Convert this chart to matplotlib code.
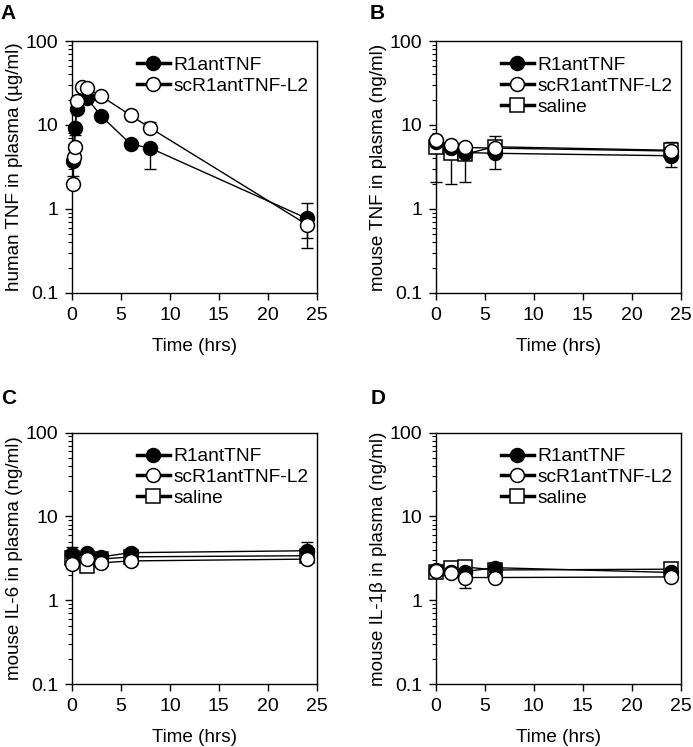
import numpy as np
import matplotlib
matplotlib.use("Agg")
import matplotlib.pyplot as plt

plt.rcParams['font.family'] = ['Liberation Sans', 'DejaVu Sans']

# panel A: human TNF (ug/ml)
a_t_r1 = [0.083, 0.25, 0.5, 1.5, 3, 6, 8, 24]
a_r1 = [3.7, 9.2, 15.5, 21, 12.7, 5.9, 5.3, 0.77]
a_r1_lo = [1.2, 1.5, 0, 0, 0, 0, 2.3, 0.32]
a_r1_hi = [0, 0, 0, 0, 0, 0, 0, 0.4]
a_t_sc = [0.083, 0.167, 0.25, 0.5, 1, 1.5, 3, 6, 8, 24]
a_sc = [2.0, 4.1, 5.5, 19.5, 28, 27.5, 22, 13, 9.2, 0.65]
a_sc_lo = [0, 0, 0, 0, 0, 0, 0, 0, 0, 0.31]
a_sc_hi = [0, 0, 0, 0, 0, 0, 0, 0, 1.6, 0]

# panels B-D share time points
t = [0, 1.5, 3, 6, 24]

b_r1 = [6.2, 5.3, 4.7, 4.6, 4.3]
b_sc = [6.7, 5.7, 5.4, 5.3, 4.9]
b_sal = [5.5, 4.7, 4.5, 5.5, 5.0]
b_sal_lo = [3.4, 2.7, 2.4, 2.5, 1.8]
b_sal_hi = [0, 0, 0, 1.8, 1.2]

c_r1 = [3.6, 3.7, 3.3, 3.7, 3.9]
c_r1_hi = [0.7, 0, 0, 0, 1.1]
c_sc = [2.7, 3.1, 2.8, 2.95, 3.1]
c_sal = [3.2, 2.6, 3.1, 3.3, 3.4]

d_r1 = [2.3, 2.2, 2.2, 2.45, 2.15]
d_sc = [2.25, 2.1, 1.87, 1.87, 1.9]
d_sc_lo = [0, 0, 0.47, 0, 0]
d_sal = [2.2, 2.4, 2.5, 2.3, 2.35]

labels = ['R1antTNF', 'scR1antTNF-L2', 'saline']

fig = plt.figure(figsize=(6.93, 7.47), dpi=100)
w, h = 0.353, 0.337
positions = {'A': (0.104, 0.608), 'B': (0.629, 0.608),
             'C': (0.104, 0.084), 'D': (0.629, 0.084)}
letter_xy = {'A': (0.012, 0.982), 'B': (0.545, 0.982),
             'C': (0.012, 0.467), 'D': (0.545, 0.466)}


def series(ax, x, y, marker, face, label, lo=None, hi=None, z=3):
    if lo is not None or hi is not None:
        lo = lo if lo is not None else [0] * len(y)
        hi = hi if hi is not None else [0] * len(y)
        ax.errorbar(x, y, yerr=[lo, hi], fmt='none', ecolor='black',
                    elinewidth=1, capsize=4, capthick=1, zorder=z - 0.5,
                    clip_on=False)
    ax.plot(x, y, color='black', lw=1, marker=marker,
            ms=10 if marker == 'o' else 10.5,
            mfc=face, mec='black', mew=1.1, label=label, zorder=z, clip_on=False)


def style(ax, letter, ylabel, order):
    ax.set_yscale('log')
    ax.set_ylim(0.1, 100)
    ax.set_xlim(0, 25)
    ax.set_xticks([0, 5, 10, 15, 20, 25])
    ax.set_yticks([0.1, 1, 10, 100])
    ax.set_yticklabels(['0.1', '1', '10', '100'])
    ax.tick_params(axis='both', which='major', direction='out', length=5,
                   width=1, labelsize=14, pad=5)
    ax.tick_params(axis='y', which='minor', direction='out', length=3, width=0.8)
    ax.tick_params(axis='x', which='minor', bottom=False)
    for s in ax.spines.values():
        s.set_linewidth(1)
    ax.set_xlabel('Time (hrs)', fontsize=13.6, labelpad=10)
    ax.set_ylabel(ylabel, fontsize=13.6, labelpad=2)
    hs, ls = ax.get_legend_handles_labels()
    leg = ax.legend([hs[i] for i in order], [ls[i] for i in order],
                    loc='upper right', bbox_to_anchor=(1.03, 1.0),
                    frameon=False, fontsize=13.8,
                    handlelength=1.7, handletextpad=0.2, labelspacing=0.18,
                    borderaxespad=0.5, borderpad=0.3)
    for ln in leg.get_lines():
        ln.set_linewidth(2.5)
    fig.text(*letter_xy[letter], letter, fontsize=15, fontweight='bold',
             ha='center', va='center')


axA = fig.add_axes([*positions['A'], w, h])
series(axA, a_t_r1, a_r1, 'o', 'black', labels[0], a_r1_lo, a_r1_hi, z=3)
series(axA, a_t_sc, a_sc, 'o', 'white', labels[1], a_sc_lo, a_sc_hi, z=4)
style(axA, 'A', 'human TNF in plasma (µg/ml)', [0, 1])

axB = fig.add_axes([*positions['B'], w, h])
series(axB, t, b_sal, 's', 'white', labels[2], b_sal_lo, b_sal_hi, z=3)
series(axB, t, b_r1, 'o', 'black', labels[0], z=4)
series(axB, t, b_sc, 'o', 'white', labels[1], z=5)
style(axB, 'B', 'mouse TNF in plasma (ng/ml)', [1, 2, 0])

axC = fig.add_axes([*positions['C'], w, h])
series(axC, t, c_sal, 's', 'white', labels[2], z=3)
series(axC, t, c_r1, 'o', 'black', labels[0], None, c_r1_hi, z=4)
series(axC, t, c_sc, 'o', 'white', labels[1], z=5)
style(axC, 'C', 'mouse IL-6 in plasma (ng/ml)', [1, 2, 0])

axD = fig.add_axes([*positions['D'], w, h])
series(axD, t, d_sal, 's', 'white', labels[2], z=3)
series(axD, t, d_r1, 'o', 'black', labels[0], z=4)
series(axD, t, d_sc, 'o', 'white', labels[1], d_sc_lo, None, z=5)
style(axD, 'D', 'mouse IL-1β in plasma (ng/ml)', [1, 2, 0])

fig.savefig('out.png', dpi=100)
